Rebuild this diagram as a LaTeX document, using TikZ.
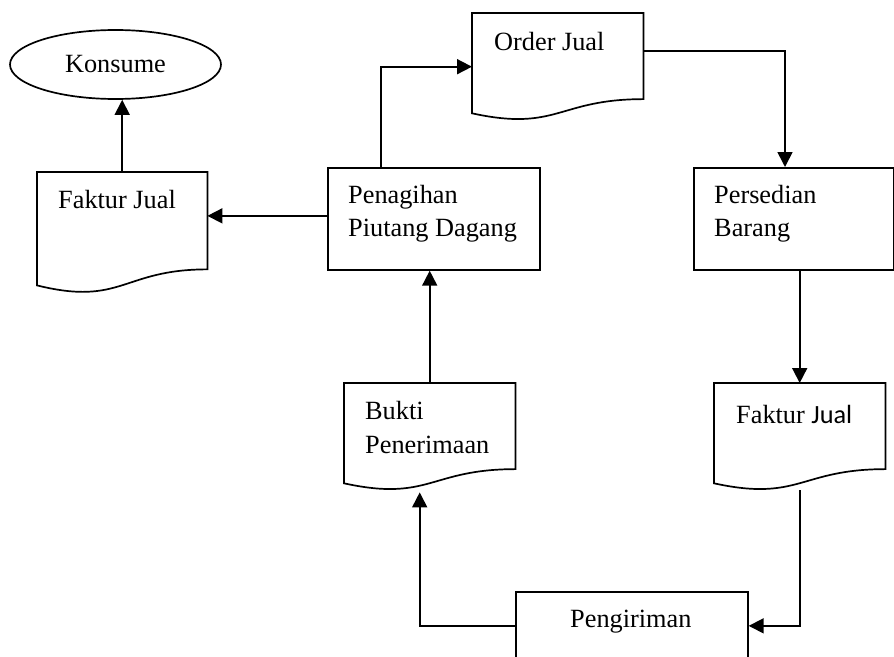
\documentclass[tikz,border=0pt]{standalone}
\usepackage{fontspec}
\setmainfont{Liberation Serif}
\newfontfamily\calibrifont{Carlito}
\usetikzlibrary{shapes.geometric,arrows.meta,calc}
\tikzset{
  lw/.style={line width=1.7pt},
  boxnode/.style={draw, lw, rectangle, inner sep=0pt, anchor=north west},
  docnode/.style={rectangle, inner sep=0pt, anchor=north west},
  txt/.style={anchor=base west, inner sep=0pt, font=\fontsize{26.3}{33}\selectfont},
  arr/.style={lw, -{Triangle[length=15pt,width=15pt]}},
}
\newcommand{\docpath}[1]{%
  \draw[lw] (#1.north west) -- (#1.north east)
    -- ($(#1.north east)!0.802!(#1.south east)$)
    .. controls ($(#1.north)!0.802!(#1.south)$) and ($(#1.north)!1.1075!(#1.south)$)
    .. ($(#1.north west)!0.934!(#1.south west)$) -- cycle;}
\begin{document}
\begin{tikzpicture}[x=1pt,y=-1pt]
\useasboundingbox (0,0) rectangle (894,656);
\clip (0,0) rectangle (894,656);

% shapes
\node[draw, lw, ellipse, inner sep=0pt, minimum width=211pt, minimum height=69pt,
      font=\fontsize{26.3}{33}\selectfont] (kons) at (115.5,64.5) {Konsume};
\node[docnode, minimum width=170pt, minimum height=121pt] (fj1) at (37,172) {};
\node[boxnode, minimum width=212pt, minimum height=102pt] (pen) at (327,167) {};
\node[docnode, minimum width=171pt, minimum height=107pt] (order) at (472,13) {};
\node[boxnode, minimum width=200pt, minimum height=102pt] (pers) at (693,167) {};
\node[docnode, minimum width=171pt, minimum height=107pt] (bukti) at (344,383) {};
\node[docnode, minimum width=171pt, minimum height=107pt] (fj2) at (714,383) {};
\node[boxnode, minimum width=232pt, minimum height=68pt] (peng) at (515,591) {};

\docpath{fj1}
\docpath{order}
\docpath{bukti}
\docpath{fj2}

% texts
\node[txt] (fj1t) at (58,208) {Faktur Jual};
\node[txt] (pent1) at (348,203) {Penagihan};
\node[txt] (pent2) at (348,236) {Piutang Dagang};
\node[txt] (ordert) at (494,50) {Order Jual};
\node[txt] (perst1) at (714,203) {Persedian};
\node[txt] (perst2) at (714,236) {Barang};
\node[txt] (buktit1) at (365,419) {Bukti};
\node[txt] (buktit2) at (365,453) {Penerimaan};
\node[txt] (fj2t) at (736,423) {Faktur {\calibrifont Jual}};
\node[txt] (pengt) at (570,627) {Pengiriman};

% connectors
\draw[arr] (fj1.north) -- (fj1.north |- kons.south);
\draw[arr] ([yshift=3pt]pen.west) -- ([yshift=3pt]pen.west -| fj1.east);
\draw[arr] ($(pen.north west)+(54,0)$) |- (order.west);
\draw[arr] ($(order.north east)+(0,38)$) -| ($(pers.north west)+(92,0)$);
\draw[arr] (pers.south -| fj2.north) -- (fj2.north);
\draw[arr] (fj2.south) |- (peng.east);
\draw[arr] (peng.west) -| ($(bukti.south)+(-10,2)$);
\draw[arr] (bukti.north) -- (bukti.north |- pen.south);
\end{tikzpicture}
\end{document}
